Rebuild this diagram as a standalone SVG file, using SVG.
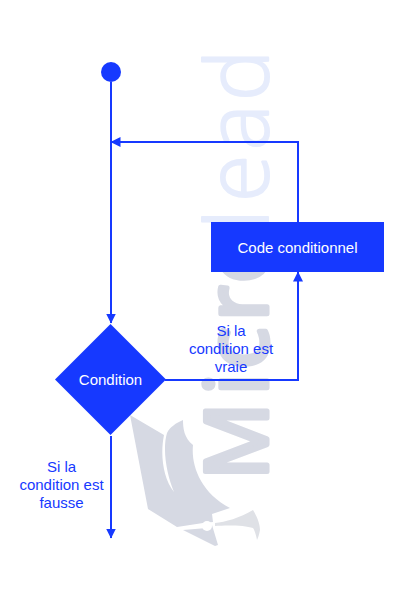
<svg xmlns="http://www.w3.org/2000/svg" width="400" height="600" viewBox="0 0 400 600">
<style>
text{font-family:"Liberation Sans",Arial,sans-serif;font-size:15px;text-anchor:middle}
.w{fill:#fff}.b{fill:#1639ff}
.wm{font-family:"Open Sans",sans-serif;font-size:86px;text-anchor:start;stroke-linejoin:round}
.c{fill:none;stroke:#1639ff;stroke-width:2}
</style>
<defs><marker id="a" markerWidth="10" markerHeight="10" refX="9.500" refY="5" orient="auto" markerUnits="userSpaceOnUse"><path d="M0 0L10 5L0 10z" fill="#1639ff"/></marker></defs>
<g id="watermark">
<text class="wm" font-weight="400" stroke-width="5" transform="translate(266.500,480) rotate(-90)" fill="#d6d9e3" stroke="#d6d9e3" x="0 85 111 159 197">Micro</text>
<text class="wm" font-weight="300" stroke-width="2" transform="translate(268,222) rotate(-90)" fill="#e6ecfc" stroke="#e6ecfc" x="-7 20 72 121">lead</text>
<path fill="#d6d9e3" d="M130 415L164 435C160 455 163 478 174 492C167 475 162 450 167 433C170 427 176 423 183 420C183 428 184 438 193 445C191 465 200 492 230 508L212 514L213 522L203 523L177 527L148 509Z"/>
<path fill="#d6d9e3" d="M183 530L207 528L212 525L218 545L215 546Z"/>
<path fill="#dfe1e6" d="M215 523C225 522 240 518 253 510C258 518 260 525 260 530C259 535 258 538 257 540C256 535 255 531 253 528C245 525 225 525 215 526Z"/>
<circle cx="207" cy="526" r="5" fill="#fff"/>
</g>
<g id="connectors">
<path class="c" d="M111 82V323" marker-end="url(#a)"/>
<path class="c" d="M298 222V142H111" marker-end="url(#a)"/>
<path class="c" d="M165 380H298V272" marker-end="url(#a)"/>
<path class="c" d="M111 436V538" marker-end="url(#a)"/>
</g>
<g id="start"><circle cx="111" cy="72" r="10" fill="#1639ff"/></g>
<g id="code"><rect x="211" y="222" width="173" height="50" fill="#1639ff"/><text class="w" x="297.500" y="253">Code conditionnel</text></g>
<g id="condition"><path d="M110.500 324L166 379.500L110.500 435L55 379.500Z" fill="#1639ff"/><text class="w" x="110.500" y="385">Condition</text></g>
<g id="label-true"><text class="b" x="231" y="336">Si la</text><text class="b" x="231" y="354">condition est</text><text class="b" x="231" y="372">vraie</text></g>
<g id="label-false"><text class="b" x="61.500" y="472">Si la</text><text class="b" x="61.500" y="490">condition est</text><text class="b" x="61.500" y="508">fausse</text></g>
</svg>
